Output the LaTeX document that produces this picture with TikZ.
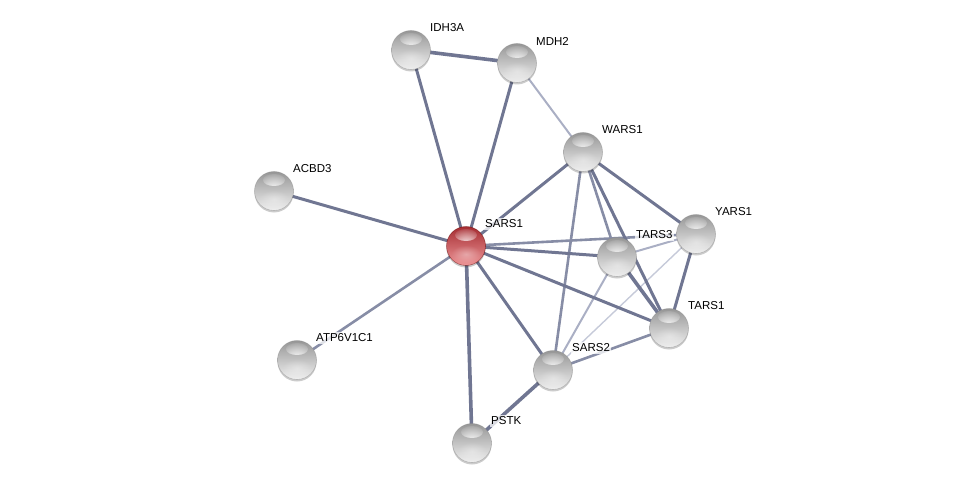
\documentclass[tikz,border=0pt]{standalone}
\usepackage{fontspec}
\setmainfont{Liberation Sans}
\usetikzlibrary{shadows,fadings}
\tikzfading[name=hlfade, inner color=transparent!0, outer color=transparent!100]
\definecolor{edark}{RGB}{112,118,146}
\definecolor{emed}{RGB}{135,141,166}
\definecolor{elight}{RGB}{170,175,196}
\definecolor{evlight}{RGB}{198,202,217}
\definecolor{gtop}{RGB}{150,150,150}
\definecolor{gmid}{RGB}{210,210,210}
\definecolor{gbot}{RGB}{240,240,240}
\definecolor{rtop}{RGB}{165,45,50}
\definecolor{rmid}{RGB}{212,95,100}
\definecolor{rbot}{RGB}{238,150,152}
\tikzset{
  ball/.style={circle, minimum size=39pt, inner sep=0pt,
    top color=gtop, middle color=gmid, bottom color=gbot,
    draw=black!45, draw opacity=0.5, line width=0.6pt,
    drop shadow={shadow xshift=0pt, shadow yshift=-2pt, opacity=0.2, fill=black},
    path picture={\fill[white, opacity=0.95, path fading=hlfade] ([yshift=11pt]path picture bounding box.center) ellipse (11pt and 6pt);
                  \fill[white, opacity=0.35, path fading=hlfade] ([yshift=-8pt]path picture bounding box.center) ellipse (15pt and 9pt);}},
  redball/.style={ball, top color=rtop, middle color=rmid, bottom color=rbot, draw=red!40!black},
  lbl/.style={font=\fontsize{11.5}{13}\selectfont, fill=white, fill opacity=0.75, text opacity=1, inner sep=1.5pt, anchor=west},
  dk/.style={draw=edark, line width=3pt},
  dkk/.style={draw=edark, line width=3.6pt},
  md/.style={draw=emed, line width=2.6pt},
  lt/.style={draw=elight, line width=2pt},
  vlt/.style={draw=evlight, line width=1.4pt},
}
\begin{document}
\begin{tikzpicture}[x=1pt, y=-1pt]
\useasboundingbox (0,0) rectangle (976,489);
% node coordinates
\coordinate (cIDH) at (411,50);
\coordinate (cMDH) at (517,63);
\coordinate (cWARS) at (583,152);
\coordinate (cACBD) at (274,191);
\coordinate (cSARS1) at (466,246);
\coordinate (cTARS3) at (617,257);
\coordinate (cYARS) at (696,234);
\coordinate (cTARS1) at (669,328);
\coordinate (cATP) at (297,360);
\coordinate (cSARS2) at (553,370);
\coordinate (cPSTK) at (472,443);
% edges
\draw[vlt] (cYARS) -- (cSARS2);
\draw[lt] (cTARS3) -- (cSARS2);
\draw[lt] (cTARS3) -- (cYARS);
\draw[lt] (cMDH) -- (cWARS);
\draw[md] (cWARS) -- (cTARS3);
\draw[md] (cWARS) -- (cSARS2);
\draw[md] (cTARS1) -- (cSARS2);
\draw[md] (cSARS1) -- (cYARS);
\draw[dkk] (cIDH) -- (cMDH);
\draw[dk] (cIDH) -- (cSARS1);
\draw[dk] (cMDH) -- (cSARS1);
\draw[dk] (cACBD) -- (cSARS1);
\draw[md] (cATP) -- (cSARS1);
\draw[dkk] (cSARS1) -- (cPSTK);
\draw[dk] (cSARS1) -- (cWARS);
\draw[dk] (cSARS1) -- (cTARS3);
\draw[dk] (cSARS1) -- (cTARS1);
\draw[dk] (cSARS1) -- (cSARS2);
\draw[dk] (cWARS) -- (cYARS);
\draw[dk] (cWARS) -- (cTARS1);
\draw[dkk] (cTARS3) -- (cTARS1);
\draw[dk] (cYARS) -- (cTARS1);
\draw[dkk] (cSARS2) -- (cPSTK);
% nodes
\node[ball] (IDH) at (cIDH) {};
\node[ball] (MDH) at (cMDH) {};
\node[ball] (WARS) at (cWARS) {};
\node[ball] (ACBD) at (cACBD) {};
\node[redball] (SARS1) at (cSARS1) {};
\node[ball] (TARS3) at (cTARS3) {};
\node[ball] (YARS) at (cYARS) {};
\node[ball] (TARS1) at (cTARS1) {};
\node[ball] (ATP) at (cATP) {};
\node[ball] (SARS2) at (cSARS2) {};
\node[ball] (PSTK) at (cPSTK) {};
% labels
\node[lbl] (lIDH) at ([xshift=17.5pt,yshift=22pt]IDH.center) {IDH3A};
\node[lbl] (lMDH) at ([xshift=17.5pt,yshift=22pt]MDH.center) {MDH2};
\node[lbl] (lWARS) at ([xshift=17.5pt,yshift=22pt]WARS.center) {WARS1};
\node[lbl] (lACBD) at ([xshift=17.5pt,yshift=22pt]ACBD.center) {ACBD3};
\node[lbl] (lSARS1) at ([xshift=17.5pt,yshift=22pt]SARS1.center) {SARS1};
\node[lbl] (lTARS3) at ([xshift=17.5pt,yshift=22pt]TARS3.center) {TARS3};
\node[lbl] (lYARS) at ([xshift=17.5pt,yshift=22pt]YARS.center) {YARS1};
\node[lbl] (lTARS1) at ([xshift=17.5pt,yshift=22pt]TARS1.center) {TARS1};
\node[lbl] (lATP) at ([xshift=17.5pt,yshift=22pt]ATP.center) {ATP6V1C1};
\node[lbl] (lSARS2) at ([xshift=17.5pt,yshift=22pt]SARS2.center) {SARS2};
\node[lbl] (lPSTK) at ([xshift=17.5pt,yshift=22pt]PSTK.center) {PSTK};
\end{tikzpicture}
\end{document}
